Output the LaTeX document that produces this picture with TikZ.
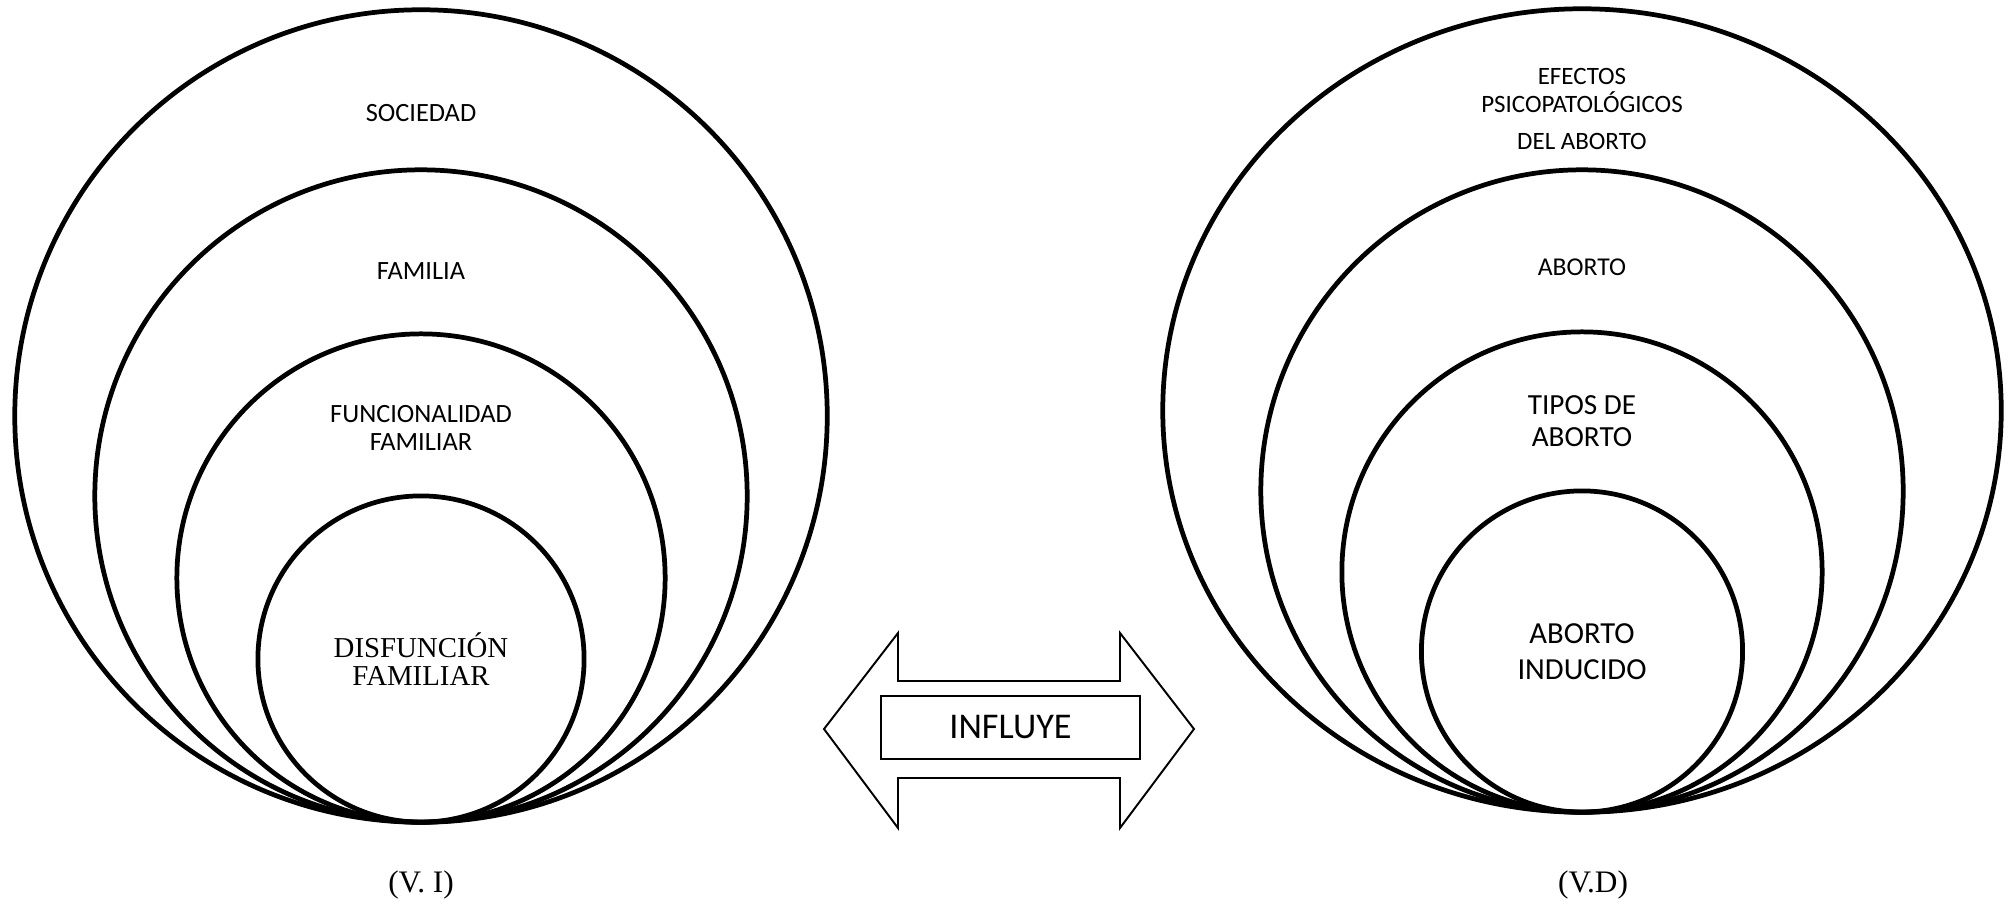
\documentclass[tikz,border=0pt]{standalone}
\usepackage{fontspec}
\newfontfamily\sansc{Carlito}
\newfontfamily\serifrm{Liberation Serif}
\usetikzlibrary{shapes,positioning}

\begin{document}
\begin{tikzpicture}[x=0.01cm, y=-0.01cm,
    ring/.style={circle, draw, line width=1.35pt, inner sep=0pt},
    oval/.style={ellipse, draw, line width=1.35pt, inner sep=0pt},
    tag/.style={font=\sansc\fontsize{7.5}{8.2}\selectfont, align=center, inner sep=0pt},
    tagbig/.style={font=\sansc\fontsize{8.7}{10.2}\selectfont, align=center},
    var/.style={font=\serifrm\fontsize{8.9}{10}\selectfont, inner sep=0pt},
    shaft/.style={draw, line width=0.55pt},
    midbox/.style={rectangle, draw, fill=white, line width=0.55pt, minimum width=2.59cm, minimum height=0.63cm, font=\sansc\fontsize{10.3}{12}\selectfont}]

    \useasboundingbox (0,0) rectangle (2015,906);

    \node [ring, minimum size=8.12cm] (soc) at (421,416) {};
    \node [ring, minimum size=6.52cm] (fam) at (421,496) {};
    \node [ring, minimum size=4.88cm] (fun) at (421,578) {};
    \node [ring, minimum size=3.26cm, font=\serifrm\fontsize{8.2}{7.9}\selectfont, align=center] (dis) at (421,659) {DISFUNCIÓN\\FAMILIAR};

    \node [tag] (soctxt) at (421,113) {SOCIEDAD};
    \node [tag] (famtxt) at (421,271) {FAMILIA};
    \node [tag] (funtxt) at (421,428) {FUNCIONALIDAD\\FAMILIAR};
    \node [var] (vi) at (421,885) {(V. I)};

    \node [oval, minimum width=8.38cm, minimum height=8.03cm] (efe) at (1582,410.5) {};
    \node [ring, minimum size=6.42cm] (abo) at (1582,491) {};
    \node [ring, minimum size=4.80cm] (tip) at (1582,572) {};
    \node [ring, minimum size=3.21cm, tagbig] (ind) at (1582,651.5) {ABORTO\\INDUCIDO};

    \node [tag, font=\sansc\fontsize{7.1}{7.9}\selectfont] (efetxt) at (1582,109) {EFECTOS\\PSICOPATOLÓGICOS\\[2.6pt]DEL ABORTO};
    \node [tag, font=\sansc\fontsize{7.3}{8.2}\selectfont] (abotxt) at (1582,267) {ABORTO};
    \node [tag, font=\sansc\fontsize{8.3}{9.1}\selectfont] (tiptxt) at (1582,421) {TIPOS DE\\ABORTO};
    \node [var] (vd) at (1593,885) {(V.D)};

    \path [shaft] (824,729) -- (898,633) -- (898,681) -- (1120,681) -- (1120,633) -- (1194,729)
        -- (1120,828) -- (1120,778) -- (898,778) -- (898,828) -- cycle;
    \node [midbox] (inf) at (1010.5,727.5) {INFLUYE};
\end{tikzpicture}
\end{document}
